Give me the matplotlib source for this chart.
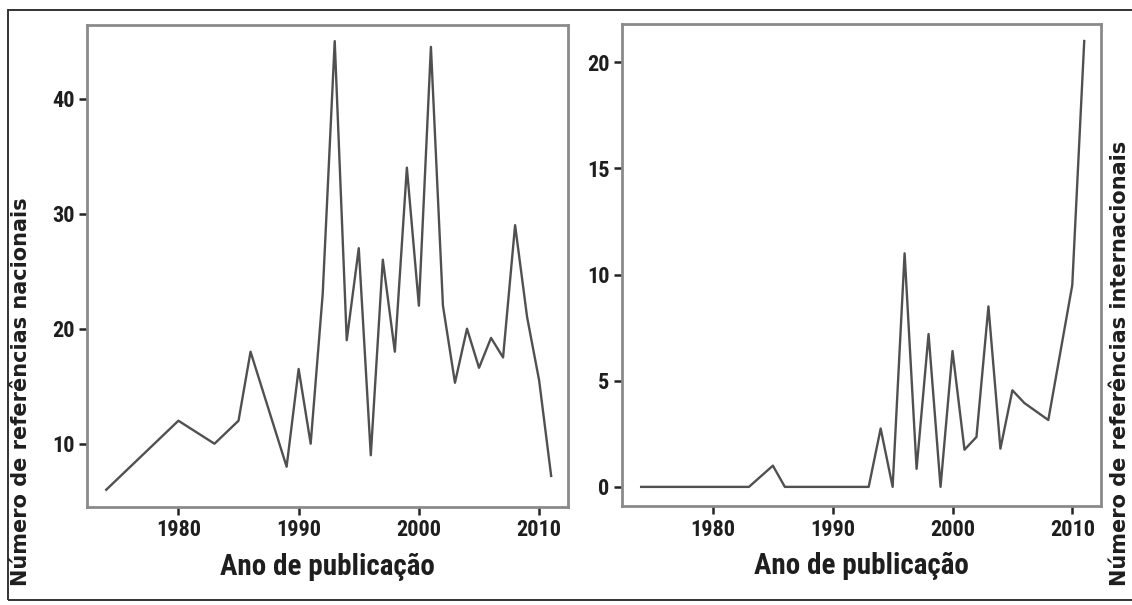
import matplotlib
matplotlib.use("Agg")
import matplotlib.pyplot as plt
from matplotlib.patches import Rectangle

# dados
anos_nac = [1974, 1975, 1978, 1980, 1983, 1985, 1986, 1989, 1990, 1991, 1992,
            1993, 1994, 1995, 1996, 1997, 1998, 1999, 2000, 2001, 2002, 2003,
            2004, 2005, 2006, 2007, 2008, 2009, 2010, 2011]
refs_nac = [6, 7, 10, 12, 10, 12, 18, 8, 16.5, 10, 23,
            45, 19, 27, 9, 26, 18, 34, 22, 44.5, 22, 15.3,
            20, 16.6, 19.2, 17.5, 29, 21, 15.5, 7.2]

anos_int = [1974, 1983, 1985, 1986, 1993, 1994, 1995, 1996, 1997, 1998, 1999,
            2000, 2001, 2002, 2003, 2004, 2005, 2006, 2008, 2010, 2011]
refs_int = [0, 0, 1, 0, 0, 2.75, 0, 11, 0.85, 7.2, 0,
            6.4, 1.75, 2.35, 8.5, 1.8, 4.55, 3.95, 3.15, 9.5, 21]

xticks = [1980, 1990, 2000, 2010]

fonte_num = ['Roboto Condensed', 'PT Sans Narrow', 'DejaVu Sans']
fonte_lab = ['DejaVu Sans']
cor_txt = '#1e1e1e'

fig = plt.figure(figsize=(11.32, 6.05), dpi=100)

# moldura externa
fig.patches.append(Rectangle((8 / 1132, 1 - 600 / 605), 1.2, (600 - 10) / 605,
                             transform=fig.transFigure, fill=False,
                             edgecolor='#333333', linewidth=1.4))


def painel(rect, x, y, ylim, yticks):
    ax = fig.add_axes(rect)
    ax.plot(x, y, color='#505050', linewidth=1.7)
    ax.set_xlim(1972.4, 2012.4)
    ax.set_ylim(*ylim)
    ax.set_xticks(xticks)
    ax.set_yticks(yticks)
    for s in ax.spines.values():
        s.set_color('#8a8a8a')
        s.set_linewidth(2)
    ax.tick_params(direction='out', length=6, width=1.8, color='#222222',
                   labelsize=16, pad=3)
    for lb in ax.get_xticklabels() + ax.get_yticklabels():
        lb.set_family(fonte_num)
        lb.set_fontweight('bold')
        lb.set_color(cor_txt)
    ax.set_xlabel('Ano de publicação', family=fonte_num, fontweight='bold',
                  fontsize=21, color=cor_txt, labelpad=8)
    return ax


ax1 = painel([87 / 1132, 1 - 507 / 605, 481 / 1132, 482 / 605],
             anos_nac, refs_nac, (4.5, 46.4), [10, 20, 30, 40])
ax2 = painel([622 / 1132, 1 - 506 / 605, 479 / 1132, 482 / 605],
             anos_int, refs_int, (-0.9, 21.8), [0, 5, 10, 15, 20])

fig.text(21 / 1132, 1 - 392 / 605, 'Número de referências nacionais',
         rotation=90, ha='center', va='center', family=fonte_lab,
         fontweight='bold', fontsize=15, color=cor_txt)
fig.text(1120 / 1132, 1 - 363 / 605, 'Número de referências internacionais',
         rotation=90, ha='center', va='center', family=fonte_lab,
         fontweight='bold', fontsize=15, color=cor_txt)

fig.savefig('out.png', dpi=100)
